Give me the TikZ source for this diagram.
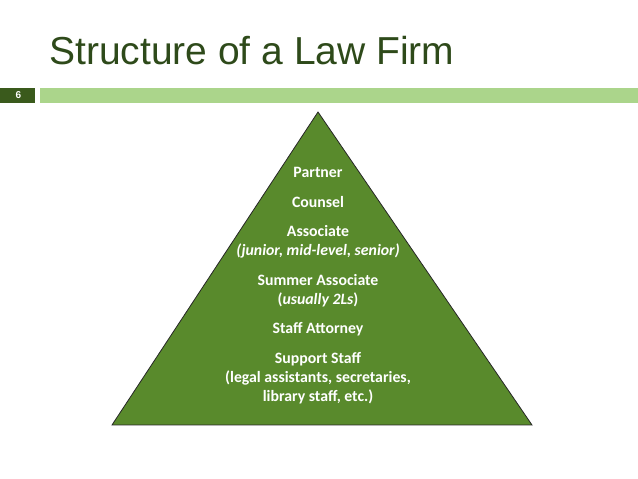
\documentclass[tikz,border=0pt]{standalone}
\usepackage{fontspec}
\setmainfont{Liberation Sans}
\newfontfamily\calib{Carlito}
\usepackage{xcolor}
\usetikzlibrary{positioning}
\definecolor{titlegreen}{HTML}{2E4A1A}
\definecolor{bargreen}{HTML}{ABD58B}
\definecolor{boxgreen}{HTML}{3A5A1C}
\definecolor{pyrgreen}{HTML}{598A2C}

\begin{document}
\begin{tikzpicture}[
    x=1pt, y=1pt,
    lvl/.style={text=white, inner sep=0pt, align=center,
                font=\calib\bfseries\fontsize{15.8}{19}\selectfont},
    pyr/.style={fill=pyrgreen, draw=black!85, line width=0.8pt}
]
  \useasboundingbox (0,0) rectangle (638,479);

  % title and slide bar
  \node[anchor=base west, text=titlegreen, inner sep=0pt,
        font=\fontsize{39}{44}\selectfont] (title) at (49,414) {Structure of a Law Firm};
  \fill[boxgreen] (0,376) rectangle (35,391);
  \fill[bargreen] (40,376) rectangle (638,391);
  \node[text=white, font=\bfseries\fontsize{10}{11}\selectfont] (num) at (18.5,383.5) {6};

  % pyramid
  \coordinate (apex) at (318,367);
  \coordinate (bl) at (112,54);
  \coordinate (br) at (532,54);
  \draw[pyr] (apex) -- (br) -- (bl) -- cycle;

  \node[lvl] (partner) at (318,307) {Partner};
  \node[lvl] (counsel) at (318,277) {Counsel};
  \node[lvl] (assoc) at (318,237.5) {Associate\\\itshape(junior, mid-level, senior)};
  \node[lvl] (summer) at (318,188.5) {Summer Associate\\(\textit{usually 2Ls})};
  \node[lvl] (staffatt) at (318,150) {Staff Attorney};
  \node[lvl] (support) at (318,101) {Support Staff\\(legal assistants, secretaries,\\library staff, etc.)};
\end{tikzpicture}
\end{document}
